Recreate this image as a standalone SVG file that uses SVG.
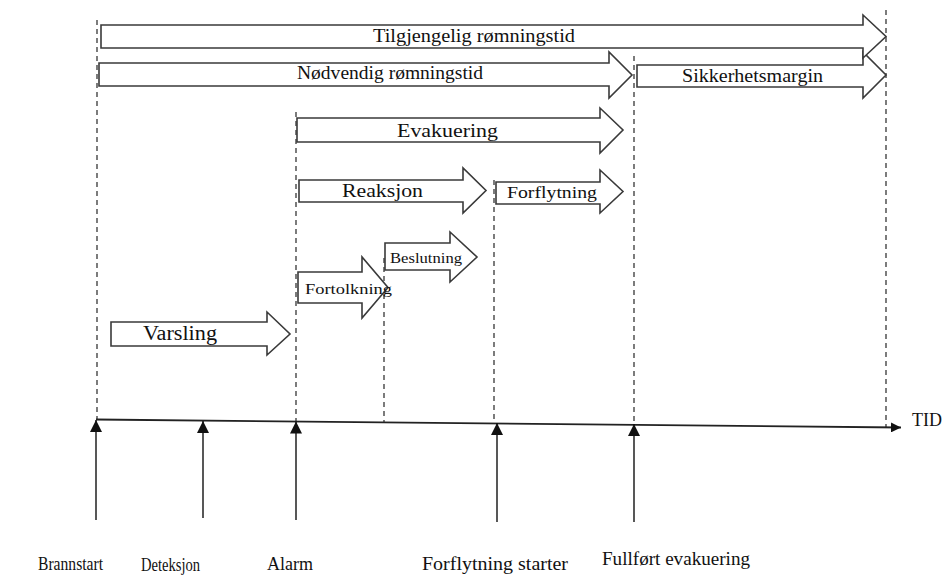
<svg xmlns="http://www.w3.org/2000/svg" width="951" height="576" viewBox="0 0 951 576">
<style>
.blk{fill:#fff;stroke:#3a3a3a;stroke-width:1.6;stroke-linejoin:miter}
.dash{stroke:#111;stroke-width:1.1;stroke-dasharray:5,4;fill:none}
.t{font-family:"Liberation Serif","Times New Roman",serif;fill:#111}
.up{stroke:#111;stroke-width:1.4;fill:none}
</style>
<defs>
<marker id="tri" viewBox="0 0 10 10" refX="10" refY="5" markerWidth="10" markerHeight="10" markerUnits="userSpaceOnUse" orient="auto">
<path d="M0,0 L10,5 L0,10 z" fill="#111"/>
</marker>
<marker id="upTri" viewBox="0 0 12 12" refX="12" refY="6" markerWidth="12" markerHeight="12" markerUnits="userSpaceOnUse" orient="auto">
<path d="M0,0 L12,6 L0,12 z" fill="#111"/>
</marker>
</defs>
<g id="connectors">
<line class="dash" x1="97" y1="20" x2="97" y2="420"/>
<line class="dash" x1="886" y1="10" x2="886" y2="427"/>
<line class="dash" x1="634" y1="56" x2="634" y2="424"/>
<line class="dash" x1="296" y1="112" x2="296" y2="421"/>
<line class="dash" x1="494" y1="180" x2="494" y2="423"/>
<line class="dash" x1="384" y1="258" x2="384" y2="422"/>
<line x1="96" y1="419.5" x2="901" y2="427.5" stroke="#222" stroke-width="1.8" marker-end="url(#tri)"/>
<line class="up" x1="96" y1="520" x2="96" y2="420" marker-end="url(#upTri)"/>
<line class="up" x1="203" y1="518" x2="203" y2="421" marker-end="url(#upTri)"/>
<line class="up" x1="296" y1="520" x2="296" y2="421.5" marker-end="url(#upTri)"/>
<line class="up" x1="497" y1="522" x2="497" y2="423" marker-end="url(#upTri)"/>
<line class="up" x1="634" y1="522" x2="634" y2="424" marker-end="url(#upTri)"/>
</g>
<g id="sikkerhetsmargin">
<polygon class="blk" points="637,65 863,65 863,52 886,75 863,98 863,87 637,87"/>
<text class="t" x="682" y="82" font-size="18" textLength="141" lengthAdjust="spacingAndGlyphs">Sikkerhetsmargin</text>
</g>
<g id="tilgjengelig">
<polygon class="blk" points="101,25 863,25 863,15 886,36.5 863,58 863,48 101,48"/>
<text class="t" x="373" y="42" font-size="19" textLength="202" lengthAdjust="spacingAndGlyphs">Tilgjengelig rømningstid</text>
</g>
<g id="nodvendig">
<polygon class="blk" points="99,63 609,63 609,52 632,75 609,98 609,86 99,86"/>
<text class="t" x="297" y="79" font-size="18" textLength="186" lengthAdjust="spacingAndGlyphs">Nødvendig rømningstid</text>
</g>
<g id="evakuering">
<polygon class="blk" points="297,118 600,118 600,108 623,130 600,153 600,142 297,142"/>
<text class="t" x="397" y="137" font-size="19" textLength="101" lengthAdjust="spacingAndGlyphs">Evakuering</text>
</g>
<g id="reaksjon">
<polygon class="blk" points="299,180 463,180 463,168 486,190.5 463,213 463,202 299,202"/>
<text class="t" x="342" y="197" font-size="19" textLength="81" lengthAdjust="spacingAndGlyphs">Reaksjon</text>
</g>
<g id="forflytning">
<polygon class="blk" points="496,182 600,182 600,170 623,191.5 600,213 600,204 496,204"/>
<text class="t" x="507" y="198" font-size="17" textLength="90" lengthAdjust="spacingAndGlyphs">Forflytning</text>
</g>
<g id="beslutning">
<polygon class="blk" points="385,243 450,243 450,232 477,257 450,282 450,270 385,270"/>
<text class="t" x="390" y="263" font-size="14" textLength="72" lengthAdjust="spacingAndGlyphs">Beslutning</text>
</g>
<g id="fortolkning">
<polygon class="blk" points="298,272 362,272 362,257 388,287.5 362,318 362,303 298,303"/>
<text class="t" x="305" y="294" font-size="15" textLength="87" lengthAdjust="spacingAndGlyphs">Fortolkning</text>
</g>
<g id="varsling">
<polygon class="blk" points="111,322 267,322 267,312 290,334 267,355 267,346 111,346"/>
<text class="t" x="143" y="340" font-size="20" textLength="74" lengthAdjust="spacingAndGlyphs">Varsling</text>
</g>
<g id="tid"><text class="t" x="912" y="426" font-size="18">TID</text></g>
<g id="brannstart"><text class="t" x="38" y="570" font-size="18" textLength="65" lengthAdjust="spacingAndGlyphs">Brannstart</text></g>
<g id="deteksjon"><text class="t" x="141" y="571" font-size="18" textLength="59" lengthAdjust="spacingAndGlyphs">Deteksjon</text></g>
<g id="alarm"><text class="t" x="267" y="570" font-size="18" textLength="46" lengthAdjust="spacingAndGlyphs">Alarm</text></g>
<g id="forflytning-starter"><text class="t" x="422" y="570" font-size="18" textLength="146" lengthAdjust="spacingAndGlyphs">Forflytning starter</text></g>
<g id="fullfort"><text class="t" x="602" y="565" font-size="18" textLength="148" lengthAdjust="spacingAndGlyphs">Fullført evakuering</text></g>
</svg>
